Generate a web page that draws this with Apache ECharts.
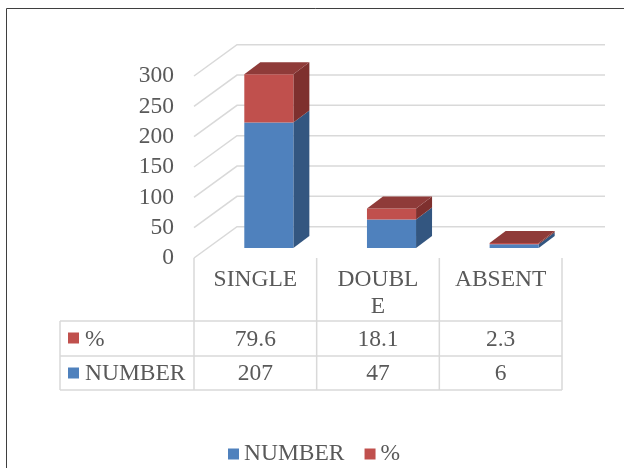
<!DOCTYPE html>
<html>
<head>
<meta charset="utf-8">
<script src="https://cdn.jsdelivr.net/npm/echarts@6/dist/echarts.min.js"></script>
<style>
html,body{margin:0;padding:0;background:#fff;}
#chart{width:624px;height:468px;}
</style>
</head>
<body>
<div id="chart"></div>
<script>
// ---- data ----
const categories = ['SINGLE', 'DOUBLE', 'ABSENT'];
const categoryLabels = ['SINGLE', 'DOUBL\nE', 'ABSENT'];
const numberValues = [207, 47, 6];
const pctValues = [79.6, 18.1, 2.3];
const yTicks = [0, 50, 100, 150, 200, 250, 300];
const seriesNames = ['NUMBER', '%'];

// ---- style constants ----
const FONT = '"Liberation Serif", "Times New Roman", serif';
const FS = 23.5;
const TXT = '#595959';
const GRID_C = '#d9d9d9';
const DEPTH_X = 43, DEPTH_Y = -31.3;   // floor depth
const FRONT_DX = 13.5, FRONT_DY = -10; // bar front plane offset
const BAR_DX = 16, BAR_DY = -12;       // bar depth
const BAR_RATIO = 0.4;
const TABLE_TOP = 258, ROW1 = 321, ROW2 = 356, TABLE_BOTTOM = 390, TABLE_LEFT = 60;

const chart = echarts.init(document.getElementById('chart'));

function barRender(front, side, top, drawTop) {
  return function (params, api) {
    const i = api.value(0), b = api.value(1), t = api.value(2);
    const pb = api.coord([i, b]);
    const pt = api.coord([i, t]);
    const bw = api.size([1, 0])[0] * BAR_RATIO;
    const x0 = pb[0] - bw / 2 + FRONT_DX, x1 = x0 + bw;
    const yb = pb[1] + FRONT_DY, yt = pt[1] + FRONT_DY;
    const children = [
      { type: 'polygon', shape: { points: [[x1, yb], [x1 + BAR_DX, yb + BAR_DY], [x1 + BAR_DX, yt + BAR_DY], [x1, yt]] }, style: { fill: side } },
      { type: 'rect', shape: { x: x0, y: yt, width: bw, height: yb - yt }, style: { fill: front } }
    ];
    if (drawTop) {
      children.push({ type: 'polygon', shape: { points: [[x0, yt], [x1, yt], [x1 + BAR_DX, yt + BAR_DY], [x0 + BAR_DX, yt + BAR_DY]] }, style: { fill: top } });
    }
    return { type: 'group', children: children };
  };
}

const option = {
  animation: false,
  backgroundColor: '#fff',
  grid: { left: 194, top: 76, width: 368, height: 182 },
  xAxis: {
    type: 'category',
    data: categories,
    axisLine: { show: false },
    axisTick: { show: false },
    axisLabel: {
      margin: 8,
      fontFamily: FONT, fontSize: FS, color: TXT, lineHeight: 27,
      formatter: function (v, idx) { return categoryLabels[idx]; }
    }
  },
  yAxis: {
    type: 'value', min: 0, max: 300, interval: 50,
    axisLine: { show: false }, axisTick: { show: false }, splitLine: { show: false },
    axisLabel: { margin: 20, fontFamily: FONT, fontSize: FS, color: TXT }
  },
  legend: {
    left: 228, top: 442, padding: 0,
    itemWidth: 11, itemHeight: 11, itemGap: 20,
    textStyle: { fontFamily: FONT, fontSize: FS, color: TXT },
    data: [{ name: 'NUMBER', icon: 'rect' }, { name: '%', icon: 'rect' }]
  },
  series: [
    {
      type: 'custom', name: 'gridlines', silent: true, z: 1,
      data: yTicks.map(v => [0, v]),
      encode: { x: 0, y: 1 },
      renderItem: function (params, api) {
        const p = api.coord([0, api.value(1)]);
        const r = params.coordSys;
        return {
          type: 'polyline',
          shape: { points: [[r.x, p[1]], [r.x + DEPTH_X, p[1] + DEPTH_Y], [r.x + r.width + DEPTH_X, p[1] + DEPTH_Y]] },
          style: { stroke: GRID_C, lineWidth: 1.5, fill: null }
        };
      }
    },
    {
      type: 'custom', name: seriesNames[0], z: 3,
      itemStyle: { color: '#4F81BD' },
      data: categories.map((c, i) => [i, 0, numberValues[i]]),
      encode: { x: 0, y: [1, 2] },
      renderItem: barRender('#4F81BD', '#335680', '#3f6797', false)
    },
    {
      type: 'custom', name: seriesNames[1], z: 3,
      itemStyle: { color: '#C0504D' },
      data: categories.map((c, i) => [i, numberValues[i], numberValues[i] + pctValues[i]]),
      encode: { x: 0, y: [1, 2] },
      renderItem: barRender('#C0504D', '#7e302e', '#8f3b39', true)
    },
    {
      type: 'custom', name: 'table', silent: true, clip: false, z: 2,
      data: categories.map((c, i) => [i, pctValues[i], numberValues[i]]),
      encode: { x: 0 },
      renderItem: function (params, api) {
        const i = api.value(0);
        const c = api.coord([i, 0]);
        const half = api.size([1, 0])[0] / 2;
        const ls = { stroke: GRID_C, lineWidth: 1.5 };
        const ts = { fontFamily: FONT, fontSize: FS, fill: TXT, align: 'center', verticalAlign: 'middle' };
        const children = [
          { type: 'line', shape: { x1: c[0] + half, y1: TABLE_TOP, x2: c[0] + half, y2: TABLE_BOTTOM }, style: ls },
          { type: 'text', style: Object.assign({ text: String(pctValues[i]), x: c[0], y: (ROW1 + ROW2) / 2 + 1 }, ts) },
          { type: 'text', style: Object.assign({ text: String(numberValues[i]), x: c[0], y: (ROW2 + TABLE_BOTTOM) / 2 + 1 }, ts) }
        ];
        if (i === 0) {
          children.push({ type: 'line', shape: { x1: c[0] - half, y1: TABLE_TOP, x2: c[0] - half, y2: TABLE_BOTTOM }, style: ls });
        }
        return { type: 'group', children: children };
      }
    }
  ],
  graphic: [
    { type: 'rect', shape: { x: 6.5, y: 8.5, width: 700, height: 600 }, style: { fill: null, stroke: '#3f3f3f', lineWidth: 1 }, silent: true },
    { type: 'line', shape: { x1: TABLE_LEFT, y1: ROW1, x2: 562, y2: ROW1 }, style: { stroke: GRID_C, lineWidth: 1.5 } },
    { type: 'line', shape: { x1: TABLE_LEFT, y1: ROW2, x2: 562, y2: ROW2 }, style: { stroke: GRID_C, lineWidth: 1.5 } },
    { type: 'line', shape: { x1: TABLE_LEFT, y1: TABLE_BOTTOM, x2: 562, y2: TABLE_BOTTOM }, style: { stroke: GRID_C, lineWidth: 1.5 } },
    { type: 'line', shape: { x1: TABLE_LEFT, y1: ROW1, x2: TABLE_LEFT, y2: TABLE_BOTTOM }, style: { stroke: GRID_C, lineWidth: 1.5 } },
    { type: 'rect', shape: { x: 68, y: 332.5, width: 11, height: 11 }, style: { fill: '#C0504D' } },
    { type: 'text', style: { text: seriesNames[1], x: 85, y: (ROW1 + ROW2) / 2 + 1, fontFamily: FONT, fontSize: FS, fill: TXT, verticalAlign: 'middle' } },
    { type: 'rect', shape: { x: 68, y: 367.5, width: 11, height: 11 }, style: { fill: '#4F81BD' } },
    { type: 'text', style: { text: seriesNames[0], x: 85, y: (ROW2 + TABLE_BOTTOM) / 2 + 1, fontFamily: FONT, fontSize: FS, fill: TXT, verticalAlign: 'middle' } }
  ]
};
chart.setOption(option);
</script>
</body>
</html>
